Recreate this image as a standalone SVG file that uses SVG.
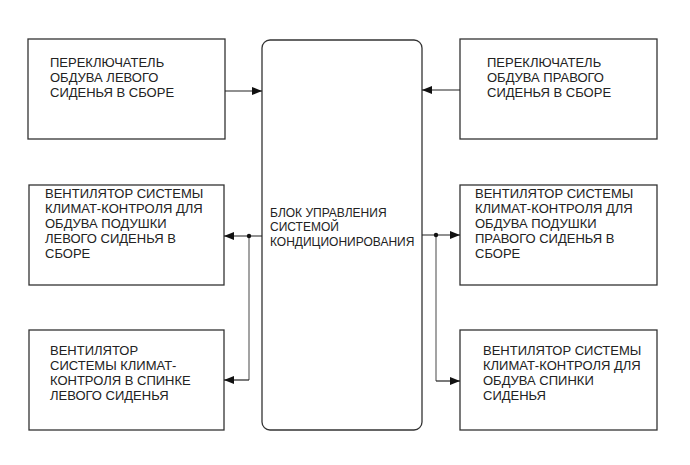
<svg xmlns="http://www.w3.org/2000/svg" width="690" height="465" viewBox="0 0 690 465">
<style>
.box{fill:#fff;stroke:#333;stroke-width:1.3}
.t{font-family:"Liberation Sans",Arial,sans-serif;font-size:13px;fill:#222}
.tc{font-family:"Liberation Sans",Arial,sans-serif;font-size:12px;fill:#222}
.ln{fill:none;stroke:#222;stroke-width:1.2}
.lg{fill:none;stroke:#666;stroke-width:1.2}
</style>
<defs>
<marker id="ah" viewBox="0 0 10 8" refX="10" refY="4" markerWidth="10" markerHeight="8" markerUnits="userSpaceOnUse" orient="auto">
<path d="M0,0 L10,4 L0,8 Z" fill="#111"/>
</marker>
</defs>
<rect width="690" height="465" fill="#fff"/>
<g id="center">
<rect class="box" x="262" y="40" width="160" height="390" rx="8"/>
<text class="tc" x="270"><tspan x="270" y="217">БЛОК УПРАВЛЕНИЯ</tspan><tspan x="270" y="231">СИСТЕМОЙ</tspan><tspan x="270" y="246">КОНДИЦИОНИРОВАНИЯ</tspan></text>
</g>
<g id="sw-left">
<rect class="box" x="28" y="39" width="197" height="100"/>
<text class="t"><tspan x="50" y="67">ПЕРЕКЛЮЧАТЕЛЬ</tspan><tspan x="50" y="82">ОБДУВА ЛЕВОГО</tspan><tspan x="50" y="97">СИДЕНЬЯ В СБОРЕ</tspan></text>
</g>
<g id="sw-right">
<rect class="box" x="460" y="39" width="197" height="100"/>
<text class="t"><tspan x="487" y="67">ПЕРЕКЛЮЧАТЕЛЬ</tspan><tspan x="487" y="82">ОБДУВА ПРАВОГО</tspan><tspan x="487" y="97">СИДЕНЬЯ В СБОРЕ</tspan></text>
</g>
<g id="fan-cushion-left">
<rect class="box" x="29" y="185" width="195" height="100"/>
<text class="t"><tspan x="45" y="198">ВЕНТИЛЯТОР СИСТЕМЫ</tspan><tspan x="45" y="213">КЛИМАТ-КОНТРОЛЯ ДЛЯ</tspan><tspan x="45" y="228">ОБДУВА ПОДУШКИ</tspan><tspan x="45" y="243">ЛЕВОГО СИДЕНЬЯ В</tspan><tspan x="45" y="258">СБОРЕ</tspan></text>
</g>
<g id="fan-cushion-right">
<rect class="box" x="460" y="185" width="197" height="100"/>
<text class="t"><tspan x="475" y="198">ВЕНТИЛЯТОР СИСТЕМЫ</tspan><tspan x="475" y="213">КЛИМАТ-КОНТРОЛЯ ДЛЯ</tspan><tspan x="475" y="228">ОБДУВА ПОДУШКИ</tspan><tspan x="475" y="243">ПРАВОГО СИДЕНЬЯ В</tspan><tspan x="475" y="258">СБОРЕ</tspan></text>
</g>
<g id="fan-back-left">
<rect class="box" x="29" y="330" width="195" height="100"/>
<text class="t"><tspan x="50" y="355">ВЕНТИЛЯТОР</tspan><tspan x="50" y="370">СИСТЕМЫ КЛИМАТ-</tspan><tspan x="50" y="385">КОНТРОЛЯ В СПИНКЕ</tspan><tspan x="50" y="400">ЛЕВОГО СИДЕНЬЯ</tspan></text>
</g>
<g id="fan-back-right">
<rect class="box" x="460" y="330" width="197" height="100"/>
<text class="t"><tspan x="483" y="355">ВЕНТИЛЯТОР СИСТЕМЫ</tspan><tspan x="483" y="370">КЛИМАТ-КОНТРОЛЯ ДЛЯ</tspan><tspan x="483" y="385">ОБДУВА СПИНКИ</tspan><tspan x="483" y="400">СИДЕНЬЯ</tspan></text>
</g>
<g id="connectors">
<line class="ln" x1="225" y1="91" x2="262" y2="91" marker-end="url(#ah)"/>
<line class="ln" x1="460" y1="90" x2="422" y2="90" marker-end="url(#ah)"/>
<line class="ln" x1="262" y1="236" x2="224" y2="236" marker-end="url(#ah)"/>
<path class="lg" d="M249,236 V380"/>
<line class="ln" x1="249" y1="380" x2="224" y2="380" marker-end="url(#ah)"/>
<circle cx="249" cy="236" r="2.2" fill="#111"/>
<line class="ln" x1="422" y1="235" x2="460" y2="235" marker-end="url(#ah)"/>
<path class="lg" d="M436,235 V381"/>
<line class="ln" x1="436" y1="381" x2="460" y2="381" marker-end="url(#ah)"/>
<circle cx="436" cy="235" r="2.2" fill="#111"/>
</g>
</svg>
